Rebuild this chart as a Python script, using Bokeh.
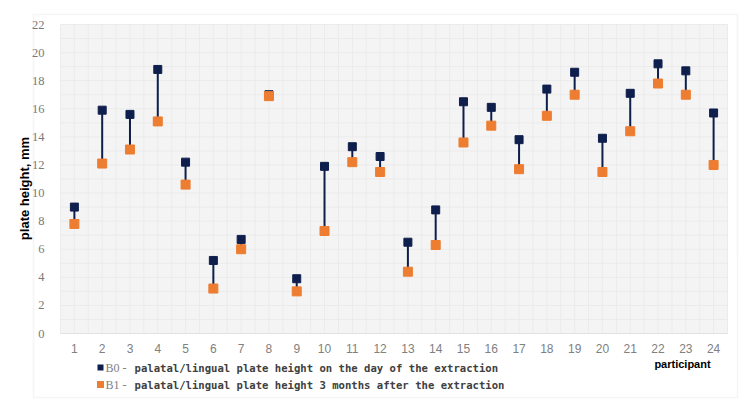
import math
from bokeh.plotting import figure
from bokeh.models import ColumnDataSource, Label, BoxAnnotation, PolyAnnotation, FixedTicker, Range1d
from bokeh.embed import file_html
from bokeh.resources import INLINE

participants = list(range(1, 25))
b0 = [9.0, 15.9, 15.6, 18.8, 12.2, 5.2, 6.7, 17.0, 3.9, 11.9, 13.3, 12.6,
      6.5, 8.8, 16.5, 16.1, 13.8, 17.4, 18.6, 13.9, 17.1, 19.2, 18.7, 15.7]
b1 = [7.8, 12.1, 13.1, 15.1, 10.6, 3.2, 6.0, 16.9, 3.0, 7.3, 12.2, 11.5,
      4.4, 6.3, 13.6, 14.8, 11.7, 15.5, 17.0, 11.5, 14.4, 17.8, 17.0, 12.0]
y_ticks = list(range(0, 23, 2))
legend_b0 = "palatal/lingual plate height on the day of the extraction"
legend_b1 = "palatal/lingual plate height 3 months after the extraction"

NAVY = "#0f1f4d"
ORANGE = "#ed7d31"

W, H = 750, 414
# plot-area placement on the canvas (pixels)
PX_L, PX_R, PX_T, PX_B = 60, 727, 24, 333
x_lo, x_hi = participants[0] - 0.5, participants[-1] + 0.5
y_lo, y_hi = y_ticks[0], y_ticks[-1]
xs = (PX_R - PX_L) / (x_hi - x_lo)
ys = (PX_B - PX_T) / (y_hi - y_lo)

p = figure(width=W, height=H, output_backend="svg", toolbar_location=None,
           x_range=Range1d(x_lo - PX_L / xs, x_hi + (W - PX_R) / xs),
           y_range=Range1d(y_lo - (H - PX_B) / ys, y_hi + PX_T / ys),
           min_border=0)
p.background_fill_color = "white"
p.border_fill_color = "white"
p.outline_line_color = None
p.xgrid.visible = False
p.ygrid.visible = False

# outer chart border (canvas pixels, y from bottom)
p.add_layout(PolyAnnotation(xs=[33, 737, 737, 33], ys=[H - 14, H - 14, H - 397, H - 397],
                            xs_units="screen", ys_units="screen",
                            fill_color=None, fill_alpha=0, line_color="#dddddd", line_width=1.5,
                            level="underlay"))

# plot area background and faint grid
p.quad(left=[x_lo], right=[x_hi], bottom=[y_lo], top=[y_hi],
       fill_color="#f4f4f4", line_color=None)
gx = [x_lo + 0.5 * k for k in range(int((x_hi - x_lo) * 2) + 1)]
gy = list(range(y_lo, y_hi + 1))
p.segment(x0=gx, y0=[y_lo] * len(gx), x1=gx, y1=[y_hi] * len(gx), line_color="#ebebeb", line_width=1)
p.segment(x0=[x_lo] * len(gy), y0=gy, x1=[x_hi] * len(gy), y1=gy, line_color="#ebebeb", line_width=1)
p.segment(x0=[x_lo], y0=[y_lo], x1=[x_hi], y1=[y_lo], line_color="#e2e2e2", line_width=1)

src = ColumnDataSource(dict(x=participants, b0=b0, b1=b1))
p.segment(x0="x", y0="b0", x1="x", y1="b1", source=src, line_color=NAVY, line_width=2)
p.scatter(x="x", y="b0", source=src, marker="square", size=8, fill_color=NAVY, line_color=NAVY)
p.scatter(x="x", y="b1", source=src, marker="square", size=9, fill_color=ORANGE, line_color=ORANGE)

p.xaxis.fixed_location = y_lo
p.yaxis.fixed_location = x_lo
p.xaxis.ticker = FixedTicker(ticks=participants)
p.yaxis.ticker = FixedTicker(ticks=y_ticks)
for ax in (p.xaxis[0], p.yaxis[0]):
    ax.axis_line_color = None
    ax.major_tick_line_color = None
    ax.minor_tick_line_color = None
p.xaxis.major_label_text_font = "Liberation Sans"
p.xaxis.major_label_text_font_size = "12px"
p.xaxis.major_label_text_color = "#808080"
p.xaxis.major_label_standoff = 4
p.yaxis.major_label_text_font = "Liberation Serif"
p.yaxis.major_label_text_font_size = "12.5px"
p.yaxis.major_label_text_color = "#7a7a7a"
p.yaxis.major_label_standoff = 10

p.add_layout(Label(x=24, y=H - 188, x_units="screen", y_units="screen", angle=math.pi / 2,
                   text="plate height, mm", text_font="Liberation Sans",
                   text_font_style="bold", text_font_size="13px",
                   text_align="center", text_baseline="middle", text_color="black"))

p.add_layout(Label(x=682, y=H - 363, x_units="screen", y_units="screen",
                   text="participant", text_font="Liberation Sans",
                   text_font_style="bold", text_font_size="11px",
                   text_align="center", text_baseline="middle", text_color="black"))

for i, (col, code, txt, sz) in enumerate([(NAVY, "B0", legend_b0, 6), (ORANGE, "B1", legend_b1, 7)]):
    yc = H - (367 + i * 17)
    p.add_layout(BoxAnnotation(left=100 - sz / 2, right=100 + sz / 2, top=yc + sz / 2, bottom=yc - sz / 2,
                               left_units="screen", right_units="screen",
                               top_units="screen", bottom_units="screen",
                               fill_color=col, fill_alpha=1, line_color=None))
    p.add_layout(Label(x=105, y=yc, x_units="screen", y_units="screen",
                       text=code + " -", text_font="Liberation Serif", text_font_size="12px",
                       text_baseline="middle", text_color="#7f7f7f"))
    p.add_layout(Label(x=134, y=yc, x_units="screen", y_units="screen",
                       text=txt, text_font="DejaVu Sans Mono", text_font_style="bold",
                       text_font_size="10.6px", text_baseline="middle", text_color="#404040"))

open("out.html", "w").write(file_html(p, INLINE))
